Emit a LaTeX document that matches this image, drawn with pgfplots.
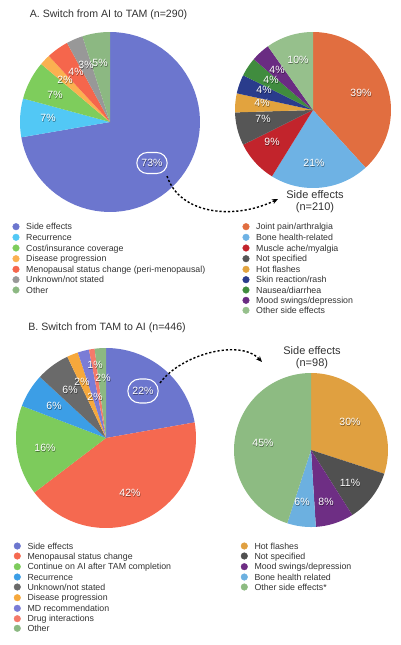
\documentclass[border=0pt]{standalone}
\usepackage{fontspec}
\setmainfont{Liberation Sans}
\usepackage{pgfplots}
\pgfplotsset{compat=1.18}
\usetikzlibrary{arrows.meta,shapes.misc}

\definecolor{txt}{RGB}{50,50,50}
% panel A
\definecolor{cSE}{RGB}{108,118,206}
\definecolor{cRecA}{RGB}{82,200,245}
\definecolor{cCost}{RGB}{126,205,92}
\definecolor{cDis}{RGB}{251,176,80}
\definecolor{cMeno}{RGB}{245,102,76}
\definecolor{cUnk}{RGB}{152,152,152}
\definecolor{cOth}{RGB}{140,184,130}
\definecolor{cJoint}{RGB}{225,110,64}
\definecolor{cBone}{RGB}{110,178,228}
\definecolor{cMus}{RGB}{194,36,44}
\definecolor{cNS}{RGB}{86,86,86}
\definecolor{cHot}{RGB}{226,163,62}
\definecolor{cSkin}{RGB}{42,60,140}
\definecolor{cNau}{RGB}{64,140,62}
\definecolor{cMood}{RGB}{106,44,130}
\definecolor{cOSE}{RGB}{150,192,140}
% panel B
\definecolor{cMenoB}{RGB}{245,105,80}
\definecolor{cCont}{RGB}{125,203,92}
\definecolor{cRecB}{RGB}{60,158,230}
\definecolor{cUnkB}{RGB}{106,106,106}
\definecolor{cDisB}{RGB}{246,168,60}
\definecolor{cMD}{RGB}{122,124,214}
\definecolor{cDrug}{RGB}{244,122,106}
\definecolor{cHot2}{RGB}{224,160,64}
\definecolor{cNS2}{RGB}{80,80,80}
\definecolor{cMood2}{RGB}{110,46,132}
\definecolor{cBone2}{RGB}{108,176,224}
\definecolor{cOSE2}{RGB}{141,187,130}

\newcommand\lgfont{\fontsize{8.8}{10}\selectfont}
\newcommand\plfont{\fontsize{10.5}{12}\selectfont}
\newcommand\ttfont{\fontsize{10.6}{12}\selectfont}
\newcommand\stfont{\fontsize{11}{13}\selectfont}

\def\pieparse#1/#2\pieend{\def\pv{#1}\def\pc{#2}}
% #1 cx, #2 cy, #3 r, #4 total, #5 list value/color (clockwise from top)
\newcommand\drawpie[5]{%
  \def\pcum{0}%
  \pgfplotsforeachungrouped \pe in {#5}{%
    \expandafter\pieparse\pe\pieend
    \pgfmathsetmacro\pa{90-(\pcum+\pv)/#4*360}%
    \pgfmathsetmacro\pb{90-\pcum/#4*360}%
    \edef\tmp{\noexpand\addplot[fill=\pc, draw=none, domain=\pa:\pb, samples=60, variable=\noexpand\q, forget plot] ({#1+#3*cos(\noexpand\q)},{#2-#3*sin(\noexpand\q)}) -- (axis cs:#1,#2) -- cycle;}%
    \tmp
    \pgfmathsetmacro\pcum{\pcum+\pv}%
  }%
}
\newcommand\plab[3]{%
  \node[text=black, opacity=0.45, font=\plfont, xshift=0.5pt, yshift=-0.5pt] at (axis cs:#1,#2) {#3};
  \node[text=white, font=\plfont] at (axis cs:#1,#2) {#3};}
\newcommand\leg[4]{%
  \addplot[only marks, mark=*, mark size=3.3pt, color=#3, forget plot] coordinates {(#1,#2)};
  \node[anchor=base west, inner sep=0pt, font=\lgfont, text=txt, xshift=10pt, yshift=-3.1pt] at (axis cs:#1,#2) {#4};}

\begin{document}
\begin{tikzpicture}
\begin{axis}[width=400pt,height=645pt,scale only axis,hide axis,
  xmin=0,xmax=400,ymin=0,ymax=645,y dir=reverse,clip=false]
\path (axis cs:0,0) rectangle (axis cs:400,645);

% ---------- Panel A ----------
\node[font=\ttfont, text=txt] at (axis cs:108.5,15) {A. Switch from AI to TAM (n=290)};
\drawpie{110}{122}{90}{101}{73/cSE,7/cRecA,7/cCost,2/cDis,4/cMeno,3/cUnk,5/cOth}
\drawpie{313}{110}{78}{102}{39/cJoint,21/cBone,9/cMus,7/cNS,4/cHot,4/cSkin,4/cNau,4/cMood,10/cOSE}

\plab{152}{163}{73\%}
\node[draw=white, line width=1.1pt, rounded rectangle, minimum width=37pt, minimum height=21pt] at (axis cs:152,163) {};
\plab{48}{118}{7\%}
\plab{55}{95}{7\%}
\plab{65}{80}{2\%}
\plab{76}{72}{4\%}
\plab{86}{65}{3\%}
\plab{100}{63}{5\%}

\plab{361}{93}{39\%}
\plab{314}{163}{21\%}
\plab{272}{142}{9\%}
\plab{263}{119}{7\%}
\plab{262}{103}{4\%}
\plab{264}{90}{4\%}
\plab{271}{80}{4\%}
\plab{277}{70}{4\%}
\plab{298}{60}{10\%}

\node[font=\stfont, text=txt] at (axis cs:315,195) {Side effects};
\node[font=\stfont, text=txt] at (axis cs:315,208) {(n=210)};

\draw[line width=1.4pt, dash pattern=on 2.2pt off 2pt, -{Stealth[length=6pt,width=5pt]}]
  (axis cs:167,176) .. controls (axis cs:180,215) and (axis cs:235,220) .. (axis cs:278,199);

\leg{16}{226.7}{cSE}{Side effects}
\leg{16}{237.3}{cRecA}{Recurrence}
\leg{16}{248.0}{cCost}{Cost/insurance coverage}
\leg{16}{258.7}{cDis}{Disease progression}
\leg{16}{269.3}{cMeno}{Menopausal status change (peri-menopausal)}
\leg{16}{279.7}{cUnk}{Unknown/not stated}
\leg{16}{290.0}{cOth}{Other}

\leg{246}{226.7}{cJoint}{Joint pain/arthralgia}
\leg{246}{237.3}{cBone}{Bone health-related}
\leg{246}{248.0}{cMus}{Muscle ache/myalgia}
\leg{246}{258.7}{cNS}{Not specified}
\leg{246}{269.3}{cHot}{Hot flashes}
\leg{246}{279.7}{cSkin}{Skin reaction/rash}
\leg{246}{290.0}{cNau}{Nausea/diarrhea}
\leg{246}{300.3}{cMood}{Mood swings/depression}
\leg{246}{310.3}{cOSE}{Other side effects}

% ---------- Panel B ----------
\node[font=\ttfont, text=txt] at (axis cs:107,328) {B. Switch from TAM to AI (n=446)};
\drawpie{106}{438}{90}{99}{22/cSE,42/cMenoB,16/cCont,6/cRecB,6/cUnkB,2/cDisB,2/cMD,1/cDrug,2/cOth}
\drawpie{311}{450}{77}{100}{30/cHot2,11/cNS2,8/cMood2,6/cBone2,45/cOSE2}

\plab{143}{391}{22\%}
\node[draw=white, line width=1.1pt, rounded rectangle, minimum width=37pt, minimum height=24pt] at (axis cs:143,391) {};
\plab{130}{493}{42\%}
\plab{45}{448}{16\%}
\plab{54}{406}{6\%}
\plab{70}{390}{6\%}
\plab{82}{382}{2\%}
\plab{95}{365}{1\%}
\plab{103}{378}{2\%}
\plab{95}{397}{2\%}

\plab{350}{422}{30\%}
\plab{350}{483}{11\%}
\plab{326}{502}{8\%}
\plab{302}{502}{6\%}
\plab{263}{443}{45\%}

\node[font=\stfont, text=txt] at (axis cs:312,351) {Side effects};
\node[font=\stfont, text=txt] at (axis cs:312,364) {(n=98)};

\draw[line width=1.4pt, dash pattern=on 2.2pt off 2pt, -{Stealth[length=6pt,width=5pt]}]
  (axis cs:160,383) .. controls (axis cs:180,355) and (axis cs:240,338) .. (axis cs:262,362);

\leg{17.3}{546.0}{cSE}{Side effects}
\leg{17.3}{556.0}{cMenoB}{Menopausal status change}
\leg{17.3}{566.7}{cCont}{Continue on AI after TAM completion}
\leg{17.3}{577.0}{cRecB}{Recurrence}
\leg{17.3}{587.0}{cUnkB}{Unknown/not stated}
\leg{17.3}{597.7}{cDisB}{Disease progression}
\leg{17.3}{608.3}{cMD}{MD recommendation}
\leg{17.3}{618.7}{cDrug}{Drug interactions}
\leg{17.3}{628.3}{cOth}{Other}

\leg{244.3}{546.0}{cHot2}{Hot flashes}
\leg{244.3}{556.0}{cNS2}{Not specified}
\leg{244.3}{566.7}{cMood2}{Mood swings/depression}
\leg{244.3}{577.0}{cBone2}{Bone health related}
\leg{244.3}{587.0}{cOSE2}{Other side effects*}
\end{axis}
\end{tikzpicture}
\end{document}
